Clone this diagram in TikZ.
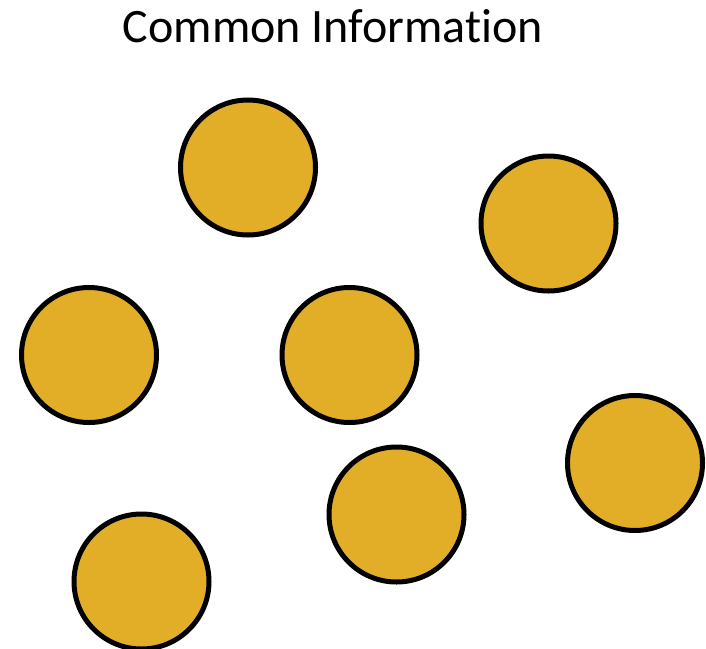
\documentclass[tikz,border=0pt]{standalone}
\usepackage{fontspec}
\setmainfont[Ligatures=NoCommon]{Carlito}
\definecolor{gold}{RGB}{226,174,40}
\tikzset{
  dot/.style={circle, draw=black, line width=5pt, fill=gold,
              inner sep=0pt, minimum size=135pt},
  heading/.style={font=\fontsize{48}{54}\selectfont, inner sep=0pt, anchor=base}
}
\begin{document}
\begin{tikzpicture}[x=1pt, y=-1pt]
  \useasboundingbox (0,0) rectangle (706,648);
  \node[heading] (title) at (333,42) {Common Information};
  \node[dot] (c1) at (248,167.5) {};
  \node[dot] (c2) at (548.5,223.5) {};
  \node[dot] (c3) at (89,355) {};
  \node[dot] (c4) at (349.5,355) {};
  \node[dot] (c5) at (635,463) {};
  \node[dot] (c6) at (396.5,514.5) {};
  \node[dot] (c7) at (141.5,581.5) {};
\end{tikzpicture}
\end{document}
